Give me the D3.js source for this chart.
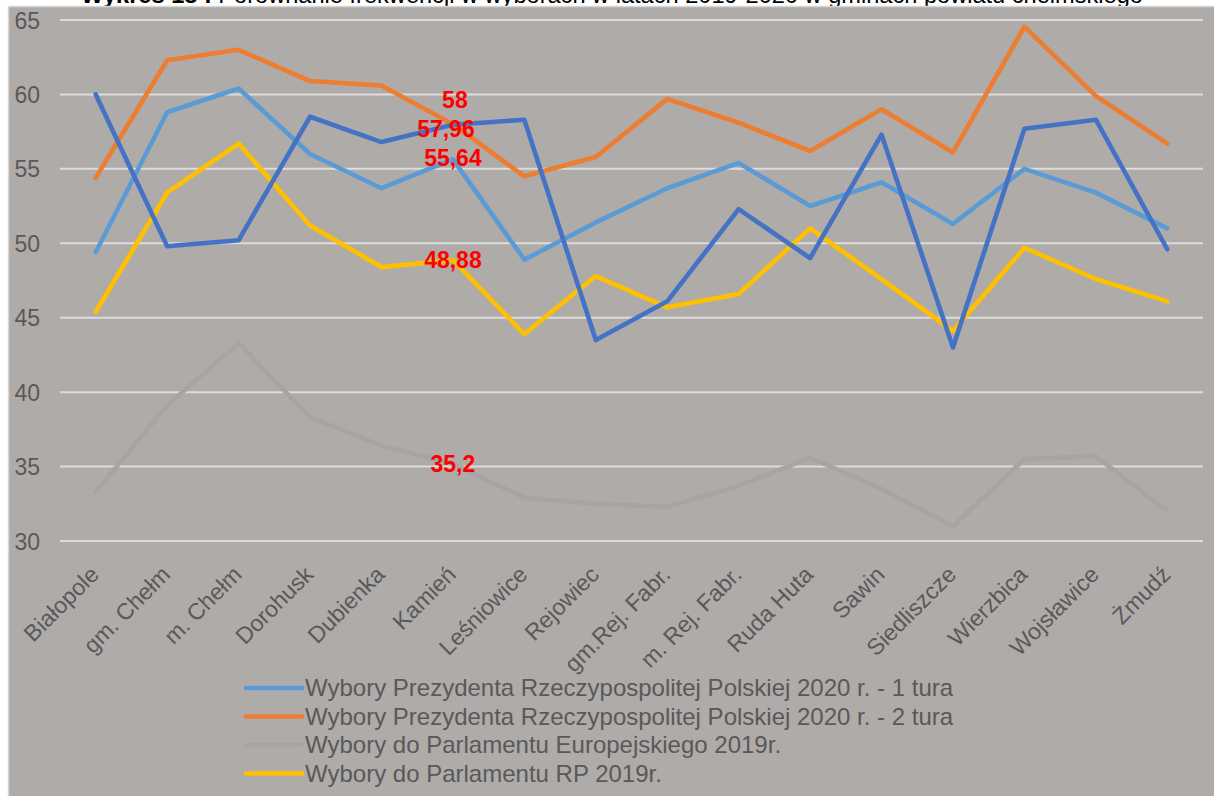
<!DOCTYPE html>
<html><head><meta charset="utf-8">
<script src="https://cdn.jsdelivr.net/npm/d3@7"></script>
<style>
html,body{margin:0;padding:0;background:#fff;}
svg{display:block;font-family:"Liberation Sans",Arial,sans-serif;}
</style></head>
<body>
<svg id="chart" width="1214" height="796"></svg>
<script>
const title = "Wykres 18 : Porównanie frekwencji w wyborach w latach 2019-2020 w gminach powiatu chełmskiego";
const categories = ["Białopole","gm. Chełm","m. Chełm","Dorohusk","Dubienka","Kamień","Leśniowice","Rejowiec","gm.Rej. Fabr.","m. Rej. Fabr.","Ruda Huta","Sawin","Siedliszcze","Wierzbica","Wojsławice","Żmudź"];
const yTicks = [30,35,40,45,50,55,60,65];
const seriesNames = [
  "Wybory Prezydenta Rzeczypospolitej Polskiej 2020 r. - 1 tura",
  "Wybory Prezydenta Rzeczypospolitej Polskiej 2020 r. - 2 tura",
  "Wybory do Parlamentu Europejskiego 2019r.",
  "Wybory do Parlamentu RP 2019r.",
  "Seria 5"
];
const prez1 = [49.4,58.8,60.4,56.0,53.7,55.64,48.9,51.4,53.7,55.4,52.5,54.1,51.3,55.0,53.4,51.0];
const prez2 = [54.4,62.3,63.0,60.9,60.6,58,54.5,55.8,59.7,58.1,56.2,59.0,56.1,64.55,59.9,56.7];
const euro2019 = [33.3,39.1,43.3,38.3,36.4,35.2,32.9,32.5,32.3,33.7,35.6,33.5,31.0,35.5,35.7,32.0];
const sejm2019 = [45.4,53.4,56.7,51.2,48.4,48.88,43.9,47.8,45.7,46.6,51.0,47.6,44.1,49.7,47.6,46.1];
const series5 = [60.0,49.8,50.2,58.5,56.8,57.96,58.3,43.5,46.1,52.3,49.0,57.3,43.0,57.7,58.3,49.6];
const labelCategory = "Kamień";
const labelTexts = ["55,64","58","35,2","48,88","57,96"];

const colors = ["#5b9bd5","#ed7d31","#a5a5a5","#ffc000","#4472c4"];
const allSeries = [prez1,prez2,euro2019,sejm2019,series5];
const inLegend = [true,true,true,true,false];

const svg = d3.select("#chart");
const textColor = "#595959";
const fs = 23;

// title (clipped at top as in the source)
const t = svg.append("text").attr("x",612).attr("y",3).attr("text-anchor","middle")
  .attr("font-size",23.6).attr("fill","#000");
t.append("tspan").attr("font-weight","bold").text(title.slice(0,11));
t.append("tspan").text(title.slice(11));

// panel
svg.append("rect").attr("x",8.5).attr("y",6.5).attr("width",1220).attr("height",800)
  .attr("fill","#afaba9").attr("stroke","#d6d6d6").attr("stroke-width",1.5);

const x = d3.scalePoint().domain(categories).range([60,1203]).padding(0.5);
const y = d3.scaleLinear().domain([30,65]).range([541,20]);

// gridlines
svg.append("g").selectAll("line").data(yTicks).join("line")
  .attr("x1",60).attr("x2",1203).attr("y1",d=>y(d)).attr("y2",d=>y(d))
  .attr("stroke","#dedcdb").attr("stroke-width",2);

// y axis labels
const yAxis = d3.axisLeft(y).tickValues(yTicks).tickSize(0).tickPadding(0).tickFormat(d3.format("d"));
const yg = svg.append("g").attr("transform","translate(40,0)").call(yAxis);
yg.select(".domain").remove();
yg.selectAll("text").attr("font-size",fs).attr("fill",textColor).attr("font-family","Liberation Sans, Arial, sans-serif").attr("dy","0.35em");

// x axis labels
const xAxis = d3.axisBottom(x).tickSize(0).tickPadding(0);
const xg = svg.append("g").attr("transform","translate(0,560)").call(xAxis);
xg.select(".domain").remove();
xg.selectAll("text").attr("font-size",fs).attr("fill",textColor).attr("font-family","Liberation Sans, Arial, sans-serif")
  .attr("text-anchor","end").attr("dy",0).attr("y",0)
  .attr("transform","translate(4,16) rotate(-45)");

// lines
const line = d3.line().x((d,i)=>x(categories[i])).y(d=>y(d));
svg.append("g").selectAll("path").data(allSeries).join("path")
  .attr("d",d=>line(d)).attr("fill","none")
  .attr("stroke",(d,i)=>colors[i]).attr("stroke-width",4.6)
  .attr("stroke-linecap","round").attr("stroke-linejoin","round");

// data labels at Kamień
const ki = categories.indexOf(labelCategory);
const labelOffsets = [[0,7],[2,-16],[0,8],[0,8],[-7,12]];
svg.append("g").selectAll("text").data(allSeries).join("text")
  .attr("x",(d,i)=>x(labelCategory)+labelOffsets[i][0])
  .attr("y",(d,i)=>y(d[ki])+labelOffsets[i][1])
  .attr("text-anchor","middle").attr("font-size",fs).attr("font-weight","bold")
  .attr("fill","#ff0000").text((d,i)=>labelTexts[i]);

// legend
const legendRows = seriesNames.map((n,i)=>({n,i})).filter(d=>inLegend[d.i]);
const lg = svg.append("g").selectAll("g").data(legendRows).join("g")
  .attr("transform",(d,k)=>`translate(246,${688+k*28.5})`);
lg.append("line").attr("x1",0).attr("x2",56).attr("y1",0).attr("y2",0)
  .attr("stroke",d=>colors[d.i]).attr("stroke-width",4.6).attr("stroke-linecap","round");
lg.append("text").attr("x",59).attr("y",0).attr("dy","0.35em").attr("font-size",24)
  .attr("fill",textColor).text(d=>d.n);
</script>
</body></html>
